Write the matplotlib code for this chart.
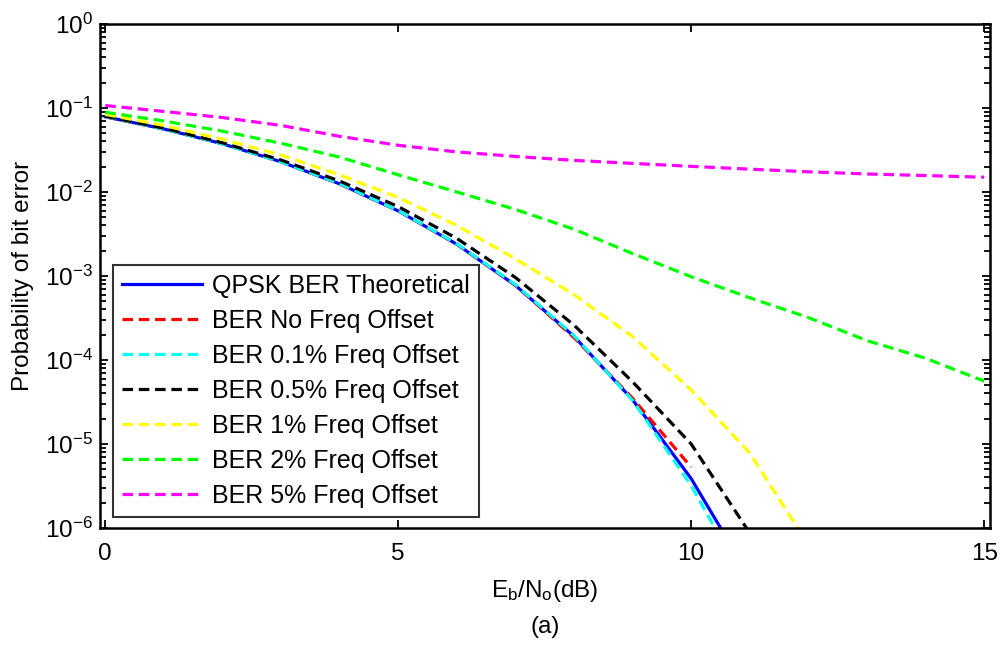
import matplotlib
matplotlib.use("Agg")
import matplotlib.pyplot as plt
from matplotlib.ticker import LogLocator, NullFormatter

plt.rcParams['font.family'] = ['Liberation Sans', 'DejaVu Sans']
plt.rcParams['mathtext.fontset'] = 'custom'
plt.rcParams['mathtext.rm'] = 'Liberation Sans'
plt.rcParams['mathtext.it'] = 'Liberation Sans:italic'

# ---- data ----
ebno_theory = [0, 1, 2, 3, 4, 5, 6, 7, 8, 9, 10, 11]
ber_theory = [7.865e-2, 5.628e-2, 3.751e-2, 2.288e-2, 1.250e-2, 5.954e-3,
              2.388e-3, 7.727e-4, 1.909e-4, 3.362e-5, 3.872e-6, 2.613e-7]

ebno_no = [0, 1, 2, 3, 4, 5, 6, 7, 8, 9, 10]
ber_no = [7.85e-2, 5.63e-2, 3.76e-2, 2.29e-2, 1.25e-2, 5.98e-3,
          2.40e-3, 7.8e-4, 1.85e-4, 3.5e-5, 5.3e-6]

ebno_01 = [0, 1, 2, 3, 4, 5, 6, 7, 8, 9, 10, 11]
ber_01 = [7.9e-2, 5.62e-2, 3.74e-2, 2.28e-2, 1.26e-2, 6.0e-3,
          2.42e-3, 7.9e-4, 1.95e-4, 3.3e-5, 3.2e-6, 1.8e-7]

ebno_05 = [0, 1, 2, 3, 4, 5, 6, 7, 8, 9, 10, 11]
ber_05 = [8.0e-2, 5.75e-2, 3.85e-2, 2.4e-2, 1.35e-2, 6.7e-3,
          2.8e-3, 9.6e-4, 2.6e-4, 5.5e-5, 1.0e-5, 8.7e-7]

ebno_1 = [0, 1, 2, 3, 4, 5, 6, 7, 8, 9, 10, 11, 12]
ber_1 = [8.4e-2, 6.2e-2, 4.25e-2, 2.75e-2, 1.6e-2, 8.6e-3,
         4.0e-3, 1.6e-3, 6.0e-4, 1.9e-4, 4.4e-5, 7.8e-6, 6.3e-7]

ebno_2 = [0, 1, 2, 3, 4, 5, 6, 7, 8, 9, 10, 11, 12, 13, 14, 15]
ber_2 = [8.9e-2, 7.0e-2, 5.3e-2, 3.8e-2, 2.6e-2, 1.6e-2, 1.0e-2, 6.2e-3,
         3.6e-3, 1.85e-3, 9.8e-4, 5.5e-4, 3.2e-4, 1.7e-4, 1.05e-4, 5.6e-5]

ebno_5 = [0, 1, 2, 3, 4, 5, 6, 7, 8, 9, 10, 11, 12, 13, 14, 15]
ber_5 = [0.107, 0.091, 0.077, 0.062, 0.046, 0.036, 0.030, 0.0265,
         0.0238, 0.0219, 0.0202, 0.0187, 0.0174, 0.0164, 0.0157, 0.0150]

labels = ['QPSK BER Theoretical', 'BER No Freq Offset', 'BER 0.1% Freq Offset',
          'BER 0.5% Freq Offset', 'BER 1% Freq Offset', 'BER 2% Freq Offset',
          'BER 5% Freq Offset']
x_ticks = [0, 5, 10, 15]

# ---- figure ----
W, H = 1001, 645
fig = plt.figure(figsize=(W / 100, H / 100), dpi=100)
L, R, T, B = 100, 990, 24, 528
ax = fig.add_axes([L / W, 1 - B / H, (R - L) / W, (B - T) / H])

lw = 2.3
dash = (3.3, 1.8)
ax.semilogy(ebno_theory, ber_theory, color=(0, 0, 1), lw=lw, label=labels[0])
ax.semilogy(ebno_no, ber_no, color=(1, 0, 0), lw=lw, dashes=dash, label=labels[1])
ax.semilogy(ebno_01, ber_01, color=(0, 1, 1), lw=lw, dashes=dash, label=labels[2])
ax.semilogy(ebno_05, ber_05, color=(0, 0, 0), lw=lw, dashes=dash, label=labels[3])
ax.semilogy(ebno_1, ber_1, color=(1, 1, 0), lw=lw, dashes=dash, label=labels[4])
ax.semilogy(ebno_2, ber_2, color=(0, 1, 0), lw=lw, dashes=dash, label=labels[5])
ax.semilogy(ebno_5, ber_5, color=(1, 0, 1), lw=lw, dashes=dash, label=labels[6])

ax.set_xlim(-0.09, 15.1)
ax.set_ylim(1e-6, 1e0)
ax.set_xticks(x_ticks)
ax.set_xticklabels([str(t) for t in x_ticks])
ax.yaxis.set_major_locator(LogLocator(base=10, numticks=20))
ax.yaxis.set_minor_locator(LogLocator(base=10, subs=range(2, 10), numticks=20))
ax.yaxis.set_minor_formatter(NullFormatter())

for s in ax.spines.values():
    s.set_linewidth(1.8)
ax.tick_params(which='both', direction='in', top=True, right=True, width=1.3,
               labelsize=17.5, colors='black')
ax.tick_params(which='major', length=6, pad=5)
ax.tick_params(axis='x', which='major', pad=11)
ax.tick_params(which='minor', length=4)

ax.set_xlabel(r'E$_\mathregular{b}$/N$_\mathregular{o}$(dB)', fontsize=17.5, labelpad=9)
ax.set_ylabel('Probability of bit error', fontsize=17.5, labelpad=8)

leg = ax.legend(loc='lower left', bbox_to_anchor=((113 - L) / (R - L), (B - 517) / (B - T)),
                borderaxespad=0, fontsize=18, frameon=True, fancybox=False,
                handlelength=3.2, handletextpad=0.4, labelspacing=0.44,
                borderpad=0.36)
leg.get_frame().set_edgecolor('black')
leg.get_frame().set_linewidth(1.5)

fig.text((L + R) / 2 / W, 1 - 627 / H, '(a)', ha='center', va='center', fontsize=17.5)

fig.savefig('out.png', dpi=100)
